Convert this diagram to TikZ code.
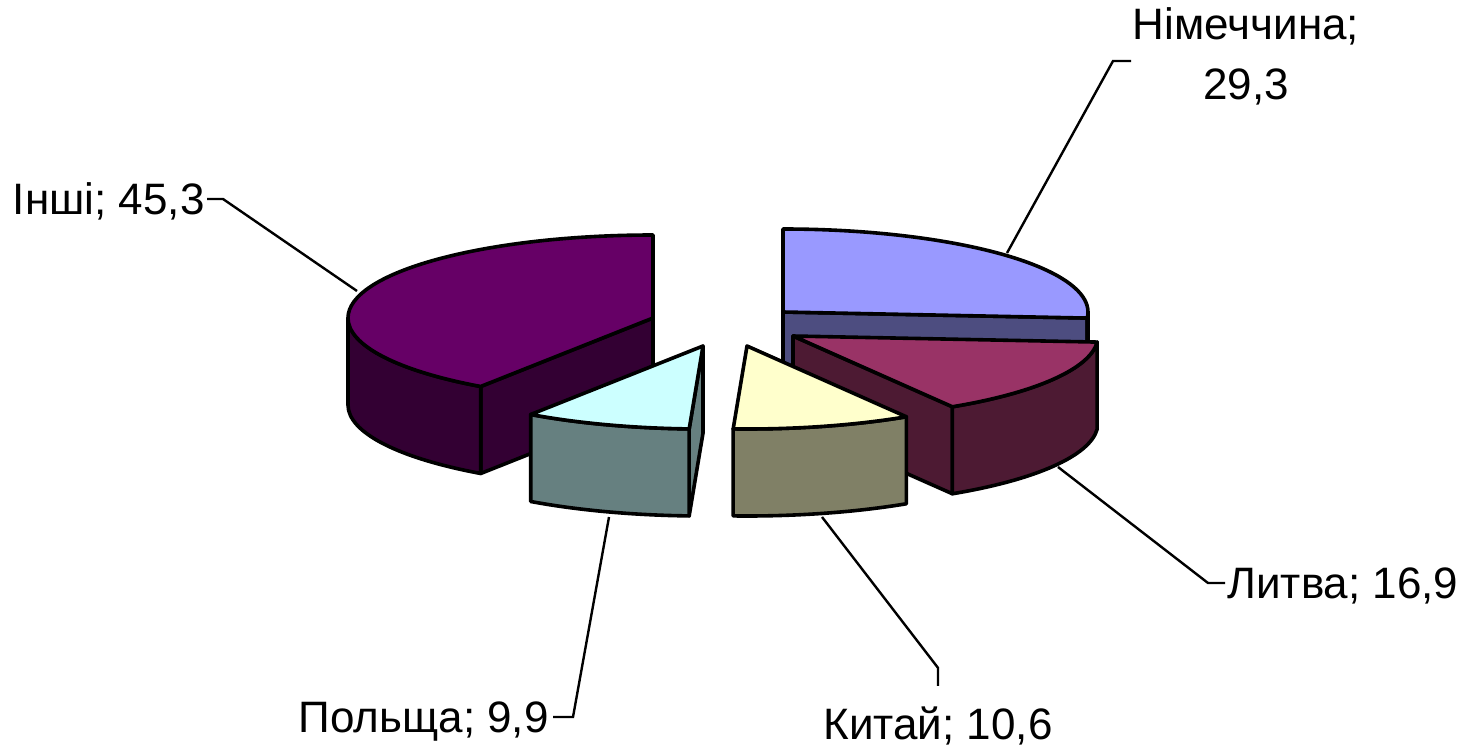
\documentclass[tikz,border=0pt]{standalone}
\usepackage{fontspec}
\setmainfont{Liberation Sans}
\usetikzlibrary{calc}
\definecolor{gTop}{HTML}{9999FF}
\definecolor{gSide}{HTML}{4D4D80}
\definecolor{lTop}{HTML}{993366}
\definecolor{lSide}{HTML}{4D1A33}
\definecolor{cTop}{HTML}{FFFFCC}
\definecolor{cSide}{HTML}{808066}
\definecolor{pTop}{HTML}{CCFFFF}
\definecolor{pSide}{HTML}{668080}
\definecolor{oTop}{HTML}{660066}
\definecolor{oSide}{HTML}{330033}
\begin{document}
\begin{tikzpicture}[x=0.5pt,y=0.5pt,
  sl/.style={draw=black,line width=1.8pt,line join=round},
  leader/.style={draw=black,line width=1.2pt},
  lbl/.style={inner sep=0pt,font=\fontsize{22}{30}\selectfont,text height=15.75pt,text depth=0pt},
  er/.style={x radius=305,y radius=83}]
\useasboundingbox (0,0) rectangle (1461,746);

% ---------- Nimechchyna ----------
\coordinate (G) at (783,434);
\coordinate (G1) at ($(G)+(-4.2:305 and 83)$);
\filldraw[sl,fill=gSide] (G) -- (G1) -- ++(0,-87) -- ($(G)+(0,-87)$) -- cycle;
\filldraw[sl,fill=gSide] (G1) arc[er,start angle=-4.2,end angle=0] -- ++(0,-87)
   arc[er,start angle=0,end angle=-4.2] -- cycle;
\filldraw[sl,fill=gTop] (G) -- ++(90:305 and 83) arc[er,start angle=90,end angle=-4.2] -- cycle;

% ---------- Inshi ----------
\coordinate (O) at (653,428);
\coordinate (O4) at ($(O)+(235.6:305 and 83)$);
\filldraw[sl,fill=oSide] (O) -- (O4) -- ++(0,-87) -- ($(O)+(0,-87)$) -- cycle;
\filldraw[sl,fill=oSide] ($(O)+(180:305 and 83)$) arc[er,start angle=180,end angle=235.6] -- ++(0,-87)
   arc[er,start angle=235.6,end angle=180] -- cycle;
\filldraw[sl,fill=oTop] (O) -- ++(90:305 and 83) arc[er,start angle=90,end angle=235.6] -- cycle;

% ---------- Lytva ----------
\coordinate (L) at (793,410);
\coordinate (L1) at ($(L)+(-4.2:305 and 83)$);
\coordinate (L2) at ($(L)+(-58.5:305 and 83)$);
\filldraw[sl,fill=lSide] (L) -- (L2) -- ++(0,-87) -- ($(L)+(0,-87)$) -- cycle;
\filldraw[sl,fill=lSide] (L2) arc[er,start angle=-58.5,end angle=-4.2] -- ++(0,-87)
   arc[er,start angle=-4.2,end angle=-58.5] -- cycle;
\filldraw[sl,fill=lTop] (L) -- (L1) arc[er,start angle=-4.2,end angle=-58.5] -- cycle;

% ---------- Polshcha ----------
\coordinate (P) at (703,400);
\coordinate (P3) at ($(P)+(-92.6:305 and 83)$);
\coordinate (P4) at ($(P)+(-124.4:305 and 83)$);
\filldraw[sl,fill=pSide] (P) -- (P3) -- ++(0,-87) -- ($(P)+(0,-87)$) -- cycle;
\filldraw[sl,fill=pSide] (P4) arc[er,start angle=-124.4,end angle=-92.6] -- ++(0,-87)
   arc[er,start angle=-92.6,end angle=-124.4] -- cycle;
\filldraw[sl,fill=pTop] (P) -- (P3) arc[er,start angle=-92.6,end angle=-124.4] -- cycle;

% ---------- Kytai ----------
\coordinate (C) at (747,400);
\coordinate (C2) at ($(C)+(-58.5:305 and 83)$);
\coordinate (C3) at ($(C)+(-92.6:305 and 83)$);
\filldraw[sl,fill=cSide] (C3) arc[er,start angle=-92.6,end angle=-58.5] -- ++(0,-87)
   arc[er,start angle=-58.5,end angle=-92.6] -- cycle;
\filldraw[sl,fill=cTop] (C) -- (C2) arc[er,start angle=-58.5,end angle=-92.6] -- cycle;

% ---------- labels ----------
\node[lbl,anchor=east] (lblO) at (205,547) {Інші; 45,3};
\node[lbl,anchor=west] (lblL) at (1227,163) {Литва; 16,9};
\node[lbl,anchor=east] (lblP) at (549,29) {Польща; 9,9};
\node[lbl] (lblC) at (938,22) {Китай; 10,6};
\node[inner sep=0pt,font=\fontsize{22}{30}\selectfont,align=center,anchor=north] (lblG) at (1246,739) {Німеччина;\\29,3};

% ---------- leader lines ----------
\coordinate (sO) at (357,455);
\coordinate (sL) at (1058,279);
\coordinate (sP) at (609,229);
\coordinate (sC) at (822,229);
\coordinate (sG) at (1007,493);
\coordinate (tGa) at (1131,685);
\coordinate (tGb) at (1113,685);
\draw[leader] ([xshift=1pt]lblO.east) -- ([xshift=9pt]lblO.east) -- (sO);
\draw[leader] ([xshift=-1pt]lblL.west) -- ([xshift=-9.5pt]lblL.west) -- (sL);
\draw[leader] ([xshift=2pt]lblP.east) -- ([xshift=12pt]lblP.east) -- (sP);
\draw[leader] ([yshift=11pt]lblC.north) -- ([yshift=20pt]lblC.north) -- (sC);
\draw[leader] (tGa) -- (tGb) -- (sG);
\end{tikzpicture}
\end{document}
